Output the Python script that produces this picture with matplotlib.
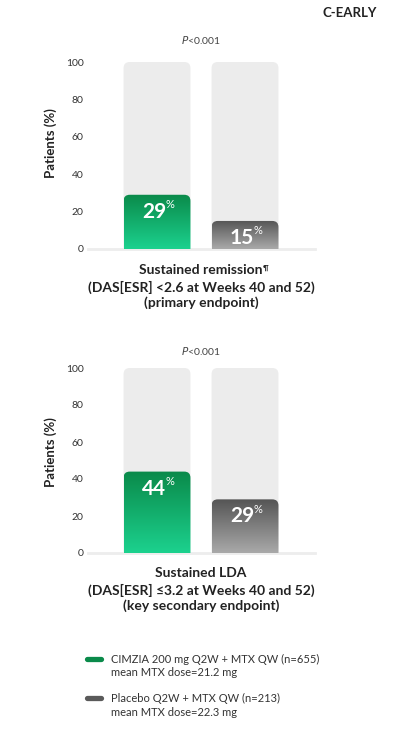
import numpy as np
import matplotlib
matplotlib.use('Agg')
import matplotlib.pyplot as plt
from matplotlib.patches import FancyBboxPatch
from matplotlib.colors import LinearSegmentedColormap
from matplotlib.lines import Line2D

plt.rcParams['font.family'] = ['Lato', 'DejaVu Sans']

# data
groups = ['CIMZIA 200 mg Q2W + MTX QW', 'Placebo Q2W + MTX QW']
remission = [29, 15]
lda = [44, 29]
yticks = [0, 20, 40, 60, 80, 100]
p_values = ['<0.001', '<0.001']
titles_remission = ['Sustained remission', '(DAS[ESR] <2.6 at Weeks 40 and 52)', '(primary endpoint)']
titles_lda = ['Sustained LDA', '(DAS[ESR] \u22643.2 at Weeks 40 and 52)', '(key secondary endpoint)']
legend_lines = [('CIMZIA 200 mg Q2W + MTX QW (n=655)', 'mean MTX dose=21.2 mg'),
                ('Placebo Q2W + MTX QW (n=213)', 'mean MTX dose=22.3 mg')]

W, H = 394, 734
green_cmap = LinearSegmentedColormap.from_list('g', ['#0a8a4a', '#1cd18e'])
gray_cmap = LinearSegmentedColormap.from_list('k', ['#555555', '#a9a9a9'])
cmaps = [green_cmap, gray_cmap]


def fy(y):
    return 1 - y / H


fig = plt.figure(figsize=(W / 100, H / 100), dpi=100)


def rounded(ax, rect, aspect, **kw):
    x, w, h = rect.get_x(), rect.get_width(), rect.get_height()
    p = FancyBboxPatch((x, -6), w, h + 6,
                       boxstyle='round,pad=0,rounding_size=0.07',
                       mutation_aspect=aspect, linewidth=0, **kw)
    ax.add_patch(p)
    return p


def panel(top, bottom, values, label_y):
    ax = fig.add_axes([88 / W, fy(bottom), 227 / W, (bottom - top) / H])
    pos = np.arange(len(values))
    aspect = (100 / (bottom - top)) / (1 / 88)
    bg = ax.bar(pos, [100] * len(values), width=0.76)
    fg = ax.bar(pos, values, width=0.76)
    for r in bg:
        r.set_visible(False)
        rounded(ax, r, aspect, facecolor='#ececec', zorder=1)
    for i, r in enumerate(fg):
        r.set_visible(False)
        p = rounded(ax, r, aspect, facecolor='none', zorder=2)
        grad = np.linspace(0, 1, 100).reshape(-1, 1)
        im = ax.imshow(grad, cmap=cmaps[i], aspect='auto', zorder=2,
                       extent=(r.get_x(), r.get_x() + r.get_width(), 0, r.get_height()),
                       origin='upper')
        im.set_clip_path(p)
        ax.annotate(f'{values[i]}', xy=(pos[i], values[i]), xytext=(9, -17),
                    textcoords='offset pixels', ha='right', va='center',
                    fontsize=15, fontweight='bold', color='white', zorder=3)
        ax.annotate('%', xy=(pos[i], values[i]), xytext=(8, -10),
                    textcoords='offset pixels', ha='left', va='center',
                    fontsize=8, color='white', zorder=3)
    ax.axhline(0, xmin=0, xmax=1, color='#ededed', lw=2, zorder=0.5, clip_on=False)
    ax.set_xlim(-0.784, 1.795)
    ax.set_ylim(0, 100)
    ax.set_yticks(yticks)
    ax.set_xticks([])
    ax.tick_params(axis='y', length=0, pad=3, labelsize=7.5, labelcolor='#333333')
    for s in ax.spines.values():
        s.set_visible(False)
    ax.set_ylabel('Patients (%)', fontsize=9.5, fontweight='bold', color='#222222')
    ax.yaxis.set_label_coords(-0.137, label_y)
    return ax


panel(62, 249, remission, 0.567)
panel(368, 553, lda, 0.546)

# p values
for y, pv in zip([40, 351], p_values):
    fig.text(201 / W, fy(y), '$\\it{P}$' + pv, ha='center', va='center',
             fontsize=7.5, color='#444444')

fig.text(377 / W, fy(13), 'C-EARLY', ha='right', va='center', fontsize=9.5,
         fontweight='bold', color='#222222')

# titles
for ys, lines in [([270, 287, 303], titles_remission), ([573, 590, 606], titles_lda)]:
    for y, t in zip(ys, lines):
        fig.text(201 / W, fy(y), t, ha='center', va='center', fontsize=10,
                 fontweight='bold', color='#222222')

# superscript pilcrow after first title line
fig.canvas.draw()
renderer = fig.canvas.get_renderer()
for t in list(fig.texts):
    if t.get_text() == 'Sustained remission':
        bb = t.get_window_extent(renderer)
        fig.text((bb.x1 - 0.5) / W, (bb.y1 - 4) / H, '\u00b6', fontsize=5.5,
                 fontweight='bold', color='#222222', va='center', ha='left')

# legend
for (l1, l2), c, y in zip(legend_lines, ['#0a8a4a', '#5a5a5a'], [659, 698]):
    fig.add_artist(Line2D([87 / W, 101 / W], [fy(y), fy(y)], color=c, lw=3.8,
                          solid_capstyle='round', transform=fig.transFigure))
    fig.text(111 / W, fy(y), l1, ha='left', va='center', fontsize=8, color='#333333')
    fig.text(111 / W, fy(y + 14), l2, ha='left', va='center', fontsize=8, color='#333333')

fig.savefig('out.png', dpi=100)
